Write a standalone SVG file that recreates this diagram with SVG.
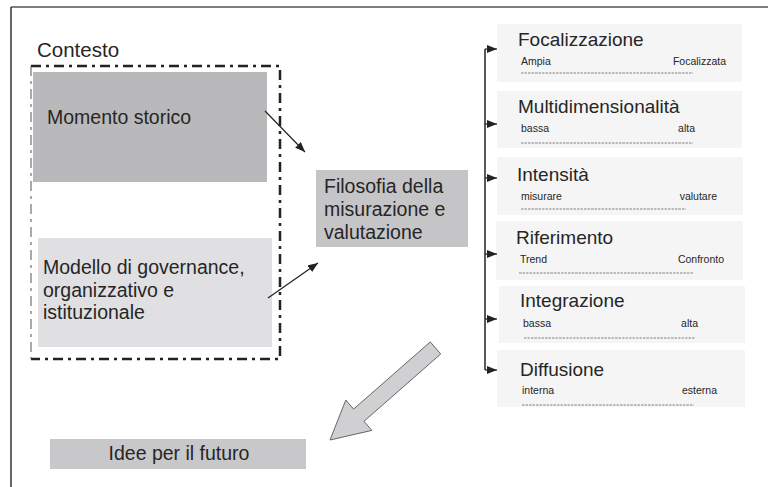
<svg xmlns="http://www.w3.org/2000/svg" width="768" height="487" viewBox="0 0 768 487">
<defs>
<marker id="ah" viewBox="0 0 10 8" refX="10" refY="4" markerWidth="10" markerHeight="8" markerUnits="userSpaceOnUse" orient="auto">
<path d="M0,0 L10,4 L0,8 z" fill="#222"/>
</marker>
</defs>
<style>
text{font-family:"Liberation Sans",Arial,sans-serif;fill:#262626}
.big{font-size:19.5px}
.ttl{font-size:19px}
.sub{font-size:10.5px}
.end{text-anchor:end}
.card{fill:#f5f5f5}
.dl{stroke:#666;stroke-width:0.8;stroke-dasharray:2.5,1;fill:none}
.con{stroke:#222;stroke-width:1.2;fill:none}
</style>
<rect width="768" height="487" fill="#fff"/>
<g id="frame">
<line x1="11" y1="7" x2="768" y2="7" stroke="#555" stroke-width="1.5"/>
<line x1="11" y1="7" x2="11" y2="487" stroke="#333" stroke-width="1.5"/>
</g>
<g id="contesto">
<text x="37" y="57" style="font-size:20.5px">Contesto</text>
<path d="M31,66 H280 V359 H31" fill="none" stroke="#222" stroke-width="2.5" stroke-dasharray="10,5,3,5"/>
<line x1="31" y1="66" x2="31" y2="359" stroke="#555" stroke-width="1" stroke-dasharray="10,5,3,5"/>
</g>
<g id="momento">
<rect x="33" y="72" width="234" height="110" fill="#b9b9bb"/>
<text class="big" x="47" y="124">Momento storico</text>
</g>
<g id="modello">
<rect x="38" y="238" width="234" height="109" fill="#e0e0e2"/>
<text class="big" x="43" y="274">Modello di governance,</text>
<text class="big" x="43" y="296.5">organizzativo e</text>
<text class="big" x="43" y="319">istituzionale</text>
</g>
<g id="filosofia">
<rect x="316" y="170" width="152" height="77" fill="#c5c5c7"/>
<text class="big" x="324" y="193">Filosofia della</text>
<text class="big" x="324" y="216">misurazione e</text>
<text class="big" x="324" y="239">valutazione</text>
</g>
<g id="idee">
<rect x="50" y="439" width="256" height="30" fill="#c8c8ca"/>
<text class="big" x="179" y="460" text-anchor="middle">Idee per il futuro</text>
</g>
<g id="focalizzazione">
<rect class="card" x="497" y="24" width="245" height="58"/>
<text class="ttl" x="518" y="46">Focalizzazione</text>
<text class="sub" x="521" y="65">Ampia</text>
<text class="sub end" x="726" y="65">Focalizzata</text>
<line class="dl" x1="521" y1="73" x2="693" y2="73"/>
</g>
<g id="multidimensionalita">
<rect class="card" x="497" y="91" width="245" height="57"/>
<text class="ttl" x="518" y="113">Multidimensionalità</text>
<text class="sub" x="521" y="132">bassa</text>
<text class="sub end" x="695" y="132">alta</text>
<line class="dl" x1="521" y1="143" x2="693" y2="143"/>
</g>
<g id="intensita">
<rect class="card" x="497" y="157" width="246" height="58"/>
<text class="ttl" x="517" y="181">Intensità</text>
<text class="sub" x="521" y="200">misurare</text>
<text class="sub end" x="717" y="200">valutare</text>
<line class="dl" x1="521" y1="209" x2="686" y2="209"/>
</g>
<g id="riferimento">
<rect class="card" x="496" y="221" width="247" height="59"/>
<text class="ttl" x="516" y="244">Riferimento</text>
<text class="sub" x="520" y="263">Trend</text>
<text class="sub end" x="724" y="263">Confronto</text>
<line class="dl" x1="519" y1="273" x2="693" y2="273"/>
</g>
<g id="integrazione">
<rect class="card" x="499" y="286" width="246" height="57"/>
<text class="ttl" x="520" y="307">Integrazione</text>
<text class="sub" x="523" y="327">bassa</text>
<text class="sub end" x="698" y="327">alta</text>
<line class="dl" x1="524" y1="338" x2="695" y2="338"/>
</g>
<g id="diffusione">
<rect class="card" x="497" y="350" width="248" height="57"/>
<text class="ttl" x="520" y="376">Diffusione</text>
<text class="sub" x="522" y="394">interna</text>
<text class="sub end" x="717" y="394">esterna</text>
<line class="dl" x1="522" y1="405" x2="694" y2="405"/>
</g>
<g id="connectors">
<line class="con" x1="265" y1="111" x2="305" y2="152" marker-end="url(#ah)"/>
<line class="con" x1="268" y1="298" x2="318" y2="263" marker-end="url(#ah)"/>
<line x1="485" y1="49" x2="485" y2="370" stroke="#222" stroke-width="1.5"/>
<line class="con" x1="485" y1="49" x2="497" y2="49" marker-end="url(#ah)"/>
<line class="con" x1="485" y1="124" x2="497" y2="124" marker-end="url(#ah)"/>
<line class="con" x1="485" y1="178" x2="497" y2="178" marker-end="url(#ah)"/>
<line class="con" x1="485" y1="254" x2="497" y2="254" marker-end="url(#ah)"/>
<line class="con" x1="485" y1="319" x2="497" y2="319" marker-end="url(#ah)"/>
<line class="con" x1="485" y1="370" x2="497" y2="370" marker-end="url(#ah)"/>
<path d="M430.3,341.9 L440.7,354 L364,421.3 L371.8,430.4 L330,440 L345.8,400 L353.6,409.1 Z" fill="#d0d0d2" stroke="#666" stroke-width="1"/>
</g>
</svg>
